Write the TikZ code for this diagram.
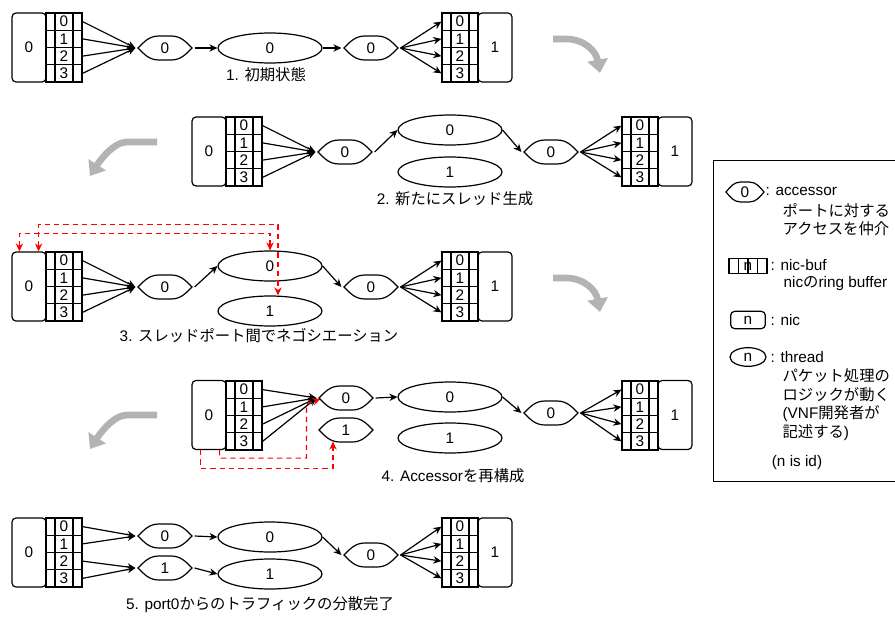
\documentclass[tikz,border=0pt]{standalone}
\usepackage{fontspec}
\setmainfont{Liberation Sans}
\newfontfamily\jp{Noto Sans CJK JP}
\usetikzlibrary{shapes.geometric,arrows.meta,calc}
\definecolor{turngray}{HTML}{B3B3B3}

% four stacked ring-buffer cells: name prefix, centre x, top y
\newcommand\bufstack[3]{%
  \foreach \i in {0,...,3}{\node[bufcell] (#1\i) at (#2,{#3+8.625+17.25*\i}) {\i};}}
% lens outline of an accessor node: node name, half width, half height
\newcommand\lens[3]{%
  \draw[shift={(#1.center)}, xscale=#2/27, yscale=#3/12]
    (-27,0) .. controls (-21,-6) and (-16,-12) .. (-6,-12) -- (6,-12)
    .. controls (16,-12) and (21,-6) .. (27,0)
    .. controls (21,6) and (16,12) .. (6,12) -- (-6,12)
    .. controls (-16,12) and (-21,6) .. (-27,0) -- cycle;}

\begin{document}
\begin{tikzpicture}[x=0.75pt, y=-0.75pt,
  font=\fontsize{11.5}{13.5}\selectfont, line width=0.9pt,
  nicbox/.style={draw, rounded corners=3pt, minimum width=25.5pt,
    minimum height=51.75pt, inner sep=0pt},
  bufcell/.style={draw, minimum width=27pt, minimum height=12.94pt, inner sep=0pt,
    path picture={\draw
      ($(path picture bounding box.north west)!0.25!(path picture bounding box.north east)$) --
      ($(path picture bounding box.south west)!0.25!(path picture bounding box.south east)$)
      ($(path picture bounding box.north west)!0.75!(path picture bounding box.north east)$) --
      ($(path picture bounding box.south west)!0.75!(path picture bounding box.south east)$);}},
  legbuf/.style={bufcell, minimum width=28.5pt, minimum height=11pt,
    append after command={\pgfextra{\draw (\tikzlastnode.north) -- (\tikzlastnode.south);}}},
  thread/.style={draw, ellipse, minimum width=78pt, minimum height=22.5pt, inner sep=0pt},
  accessor/.style={minimum width=43.5pt, minimum height=18pt, inner sep=0pt},
  txt/.style={anchor=west, inner sep=0pt},
  flow/.style={-{Stealth[length=6pt,width=5.5pt]}},
  neg/.style={red, dash pattern=on 4pt off 3pt, line width=0.9pt},
  negtip/.style={{Stealth[length=6pt,width=5.5pt]}-{Stealth[length=6pt,width=5.5pt]}},
  negend/.style={-{Stealth[length=6pt,width=5.5pt]}},
  turn/.style={line width=5pt, turngray, -{Triangle[width=15pt,length=10pt]}}
]
\useasboundingbox (0,0) rectangle (895,617);

% ---------- 1. initial state ----------
\node[nicbox] (r1nL) at (29,47.5) {0};
\bufstack{r1L}{64}{13}
\node[accessor] (r1a) at (165,48) {0};
\node[thread] (r1t0) at (270,48) {0};
\node[accessor] (r1b) at (371,48) {0};
\bufstack{r1R}{460}{13}
\node[nicbox] (r1nR) at (495,47.5) {1};
\node (lab1) at (266,75) {1. {\jp 初期状態}};
\foreach \i in {0,...,3} \draw[flow] (r1L\i.east) -- (r1a.west);
\draw[flow] (r1a.east) -- (r1t0.west);
\draw[flow] (r1t0.east) -- (r1b.west);
\foreach \i in {0,...,3} \draw[flow] (r1b.east) -- (r1R\i.west);

% ---------- 2. new thread ----------
\node[nicbox] (r2nL) at (209,151.5) {0};
\bufstack{r2L}{244}{117}
\node[accessor] (r2a) at (345,152) {0};
\node[thread] (r2t0) at (450,130) {0};
\node[thread] (r2t1) at (450,172) {1};
\node[accessor] (r2b) at (551,152) {0};
\bufstack{r2R}{640}{117}
\node[nicbox] (r2nR) at (675,151.5) {1};
\node (lab2) at (455,199) {2. {\jp 新たにスレッド生成}};
\foreach \i in {0,...,3} \draw[flow] (r2L\i.east) -- (r2a.west);
\draw[flow] (r2a.east) -- (r2t0.west);
\draw[flow] (r2t0.east) -- (r2b.west);
\foreach \i in {0,...,3} \draw[flow] (r2b.east) -- (r2R\i.west);

% ---------- 3. negotiation ----------
\node[nicbox] (r3nL) at (29,286.5) {0};
\bufstack{r3L}{64}{252}
\node[accessor] (r3a) at (165,287) {0};
\node[thread] (r3t0) at (270,266) {0};
\node[thread] (r3t1) at (270,311) {1};
\node[accessor] (r3b) at (371,287) {0};
\bufstack{r3R}{460}{252}
\node[nicbox] (r3nR) at (495,286.5) {1};
\node (lab3) at (259,336) {3. {\jp スレッドポート間でネゴシエーション}};
\foreach \i in {0,...,3} \draw[flow] (r3L\i.east) -- (r3a.west);
\draw[flow] (r3a.east) -- (r3t0.west);
\draw[flow] (r3t0.east) -- (r3b.west);
\foreach \i in {0,...,3} \draw[flow] (r3b.east) -- (r3R\i.west);
\draw[neg, negtip] ($(r3nL.north west)+(8,0)$) -- ++(0,-18) -| (r3t0.north);
\draw[neg, negtip] ($(r3nL.north east)+(-8,0)$) -- ++(0,-27) -| ($(r3t1.north)+(8,0)$);

% ---------- 4. accessor rebuilt ----------
\node[nicbox] (r4nL) at (209,415) {0};
\bufstack{r4L}{244}{381}
\node[accessor] (r4a0) at (346,398) {0};
\node[accessor] (r4a1) at (346,430) {1};
\node[thread] (r4t0) at (450,397) {0};
\node[thread] (r4t1) at (450,438) {1};
\node[accessor] (r4b) at (551,413) {0};
\bufstack{r4R}{640}{381}
\node[nicbox] (r4nR) at (675,415) {1};
\node (lab4) at (453,476) {4. Accessor{\jp を再構成}};
\foreach \i in {0,...,3} \draw[flow] (r4L\i.east) -- (r4a0.west);
\draw[flow] (r4a0.east) -- (r4t0.west);
\draw[flow] (r4t0.east) -- (r4b.west);
\foreach \i in {0,...,3} \draw[flow] (r4b.east) -- (r4R\i.west);
\draw[neg, negend] ($(r4nL.south west)+(9,0)$) -- ++(0,18) -| ($(r4a1.south)+(-13,-1)$);
\draw[neg, negend] ($(r4nL.south east)+(-7,0)$) -- ++(0,8) -| ($(r4a0.west)+(-10,6)$)
  -- ($(r4a0.west)+(4,1)$);

% ---------- 5. traffic distributed ----------
\node[nicbox] (r5nL) at (29,552.5) {0};
\bufstack{r5L}{64}{518}
\node[accessor] (r5a0) at (165,536) {0};
\node[accessor] (r5a1) at (165,568) {1};
\node[thread] (r5t0) at (270,537) {0};
\node[thread] (r5t1) at (270,574) {1};
\node[accessor] (r5b) at (371,555) {0};
\bufstack{r5R}{460}{518}
\node[nicbox] (r5nR) at (495,552.5) {1};
\node (lab5) at (260,605) {5. port0{\jp からのトラフィックの分散完了}};
\foreach \i in {0,1} \draw[flow] (r5L\i.east) -- (r5a0.west);
\foreach \i in {2,3} \draw[flow] (r5L\i.east) -- (r5a1.west);
\draw[flow] (r5a0.east) -- (r5t0.west);
\draw[flow] (r5a1.east) -- (r5t1.west);
\draw[flow] (r5t0.east) -- (r5b.west);
\foreach \i in {0,...,3} \draw[flow] (r5b.east) -- (r5R\i.west);

% accessor outlines
\foreach \n in {r1a,r1b,r2a,r2b,r3a,r3b,r4a0,r4a1,r4b,r5a0,r5a1,r5b} {\lens{\n}{27}{12}}

% ---------- step-to-step turn arrows ----------
\coordinate (g1s) at (553,39);  \coordinate (g1e) at (600,73);
\coordinate (g2s) at (553,278); \coordinate (g2e) at (600,312);
\coordinate (g3s) at (157,142); \coordinate (g3e) at (90,176);
\coordinate (g4s) at (157,415); \coordinate (g4e) at (90,449);
\draw[turn] (g1s) -- ++(13,0) .. controls +(18,0) and +(-4,-22) .. (g1e);
\draw[turn] (g2s) -- ++(13,0) .. controls +(18,0) and +(-4,-22) .. (g2e);
\draw[turn] (g3s) -- ++(-30,0) .. controls +(-14,0) and +(9,-14) .. (g3e);
\draw[turn] (g4s) -- ++(-30,0) .. controls +(-14,0) and +(9,-14) .. (g4e);

% ---------- legend ----------
\node[draw, anchor=north west, minimum width=144pt, minimum height=240.75pt, inner sep=0pt]
  (lgbox) at (713,160) {};
\node[accessor, minimum width=30pt, minimum height=16pt] (lgA) at (745,192) {0};
\lens{lgA}{19}{10}
\node[txt] (lgA1) at (765,191) {: accessor};
\node[txt] (lgA2) at (782,211) {\jp ポートに対する};
\node[txt] (lgA3) at (782,229) {\jp アクセスを仲介};
\node[legbuf] (lgB) at (748,266) {n};
\node[txt] (lgB1) at (770,265) {: nic-buf};
\node[txt] (lgB2) at (783,284) {nic{\jp の}ring buffer};
\node[nicbox, minimum width=26pt, minimum height=13pt] (lgC) at (748,320) {n};
\node[txt] (lgC1) at (770,320) {: nic};
\node[thread, minimum width=27pt, minimum height=14pt] (lgD) at (748,357) {n};
\node[txt] (lgD1) at (770,357) {: thread};
\node[txt] (lgD2) at (782,376) {\jp パケット処理の};
\node[txt] (lgD3) at (782,395) {\jp ロジックが動く};
\node[txt] (lgD4) at (782,414) {(VNF{\jp 開発者が}};
\node[txt] (lgD5) at (782,433) {{\jp 記述する})};
\node (lgE) at (797,463) {(n is id)};
\end{tikzpicture}
\end{document}
